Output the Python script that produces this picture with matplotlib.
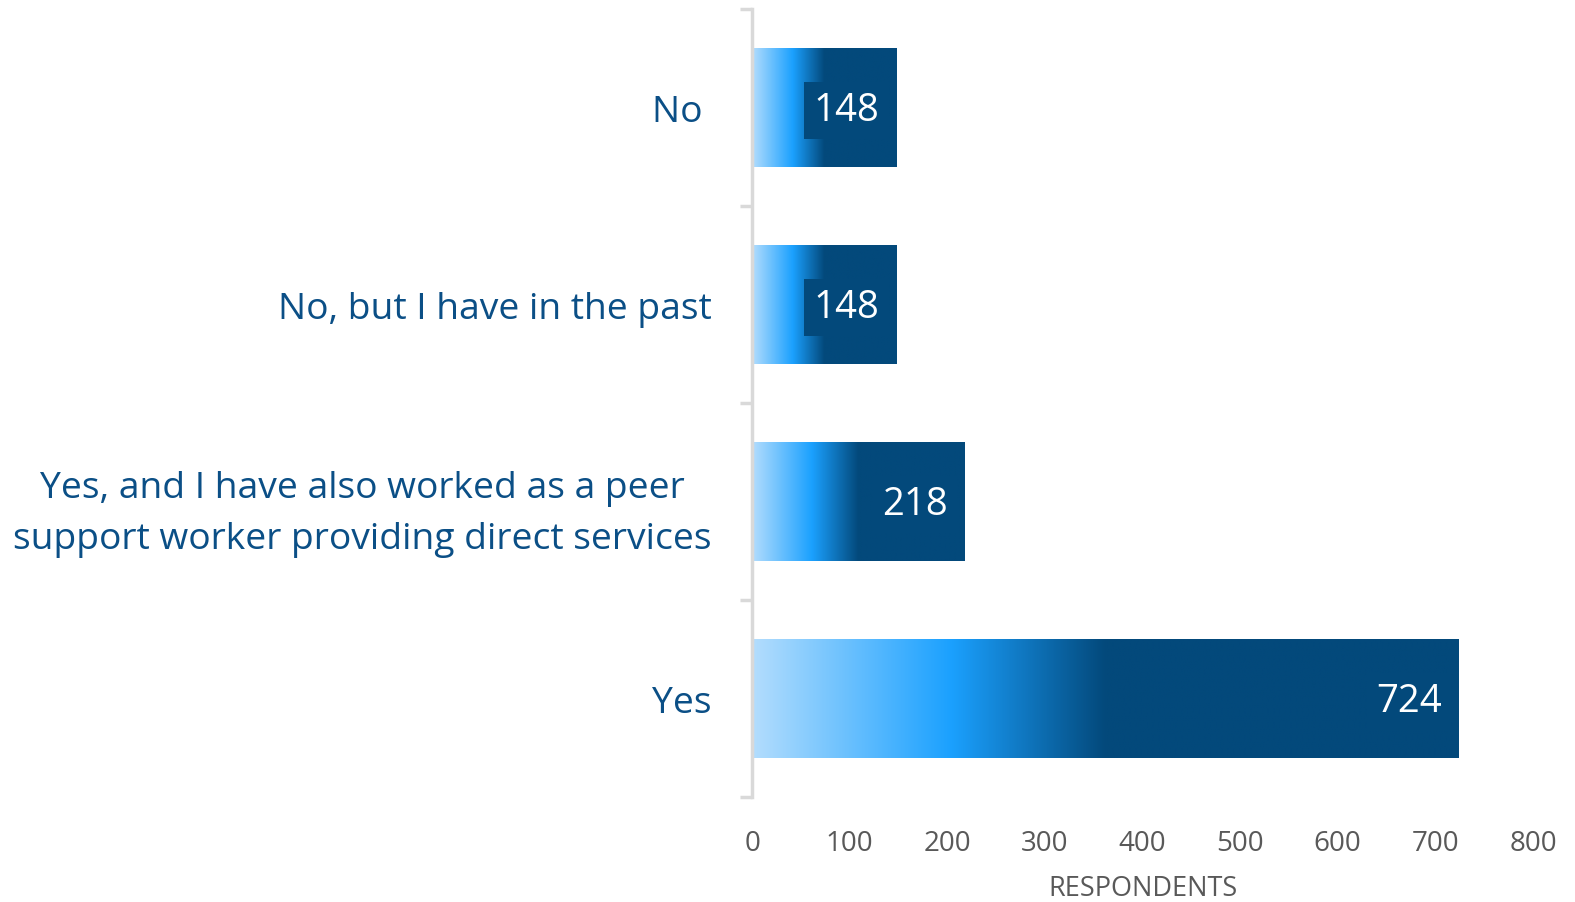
import numpy as np
import matplotlib.pyplot as plt
from matplotlib.colors import LinearSegmentedColormap

categories = ['No ', 'No, but I have in the past',
              'Yes, and I have also worked as a peer\nsupport worker providing direct services',
              'Yes']
respondents = [148, 148, 218, 724]
xticks = [0, 100, 200, 300, 400, 500, 600, 700, 800]

navy = '#03497b'
label_blue = '#0b4f86'
grid_gray = '#d9d9d9'
text_gray = '#595959'

bar_cmap = LinearSegmentedColormap.from_list(
    'bar_grad', [(0.0, '#b3ddfd'), (0.28, '#1ba1ff'), (0.5, navy), (1.0, navy)])

plt.rcParams['font.family'] = ['Open Sans', 'DejaVu Sans']

fig = plt.figure(figsize=(15.75, 9.03), dpi=100)
ax = fig.add_axes([0.4775, 0.1163, 0.4958, 0.8727])

y = np.arange(len(categories))
bars = ax.barh(y, respondents, height=0.6, color='none')

# horizontal gradient fill clipped to each bar
grad = np.linspace(0, 1, 256).reshape(1, -1)
for b in bars:
    x0, y0 = b.get_x(), b.get_y()
    w, h = b.get_width(), b.get_height()
    im = ax.imshow(grad, cmap=bar_cmap, aspect='auto', extent=(x0, x0 + w, y0, y0 + h),
                   interpolation='bilinear', zorder=2)
    im.set_clip_path(b)

for yi, v in zip(y, respondents):
    ax.text(v - 17 * 800 / 781, yi + 0.015, str(v), ha='right', va='center', color='white',
            fontsize=27.5, zorder=4,
            bbox=dict(boxstyle='square,pad=0.24', facecolor=navy, edgecolor='none'))

ax.set_xlim(0, 800)
ax.set_ylim(len(categories) - 0.5, -0.5)
ax.set_xticks(xticks)
ax.set_xticklabels([str(t) for t in xticks])
ax.set_yticks(y)
ax.set_yticklabels(categories, multialignment='center', linespacing=1.55)
ax.set_yticks(np.arange(-0.5, len(categories)), minor=True)

for side in ['top', 'right', 'bottom']:
    ax.spines[side].set_visible(False)
ax.spines['left'].set_color(grid_gray)
ax.spines['left'].set_linewidth(2.5)

ax.tick_params(axis='y', which='major', length=0, pad=29, labelsize=26.8, labelcolor=label_blue)
ax.tick_params(axis='y', which='minor', length=9, width=2.5, color=grid_gray)
ax.tick_params(axis='x', length=0, pad=23, labelsize=20, labelcolor=text_gray)
ax.set_xlabel('RESPONDENTS', fontsize=19.5, color=text_gray, labelpad=12)

fig.savefig('out.png', dpi=100)
